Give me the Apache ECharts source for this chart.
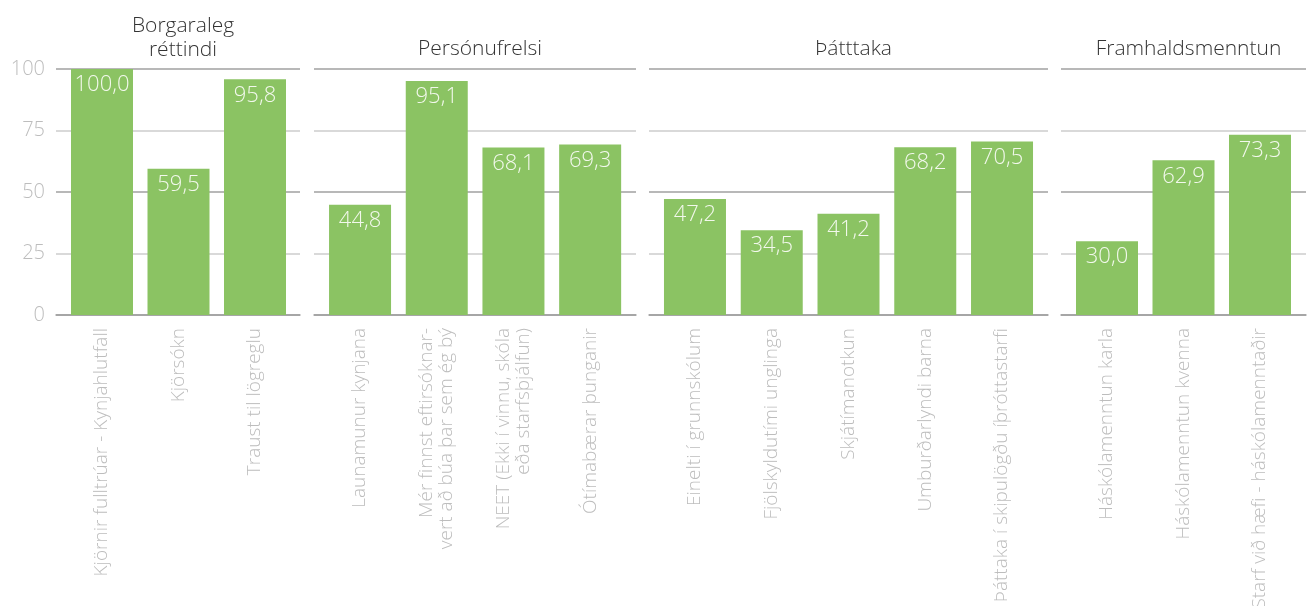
<!DOCTYPE html>
<html>
<head>
<meta charset="utf-8">
<script src="https://cdn.jsdelivr.net/npm/echarts@6/dist/echarts.min.js"></script>
<style>
  html, body { margin: 0; padding: 0; background: #fff; }
  #chart { width: 1315px; height: 606px; }
</style>
</head>
<body>
<div id="chart"></div>
<script>
// flokkar og gildi
const titles = ["Borgaraleg\nréttindi", "Persónufrelsi", "Þátttaka", "Framhaldsmenntun"];

const cat1 = ["Kjörnir fulltrúar - Kynjahlutfall", "Kjörsókn", "Traust til lögreglu"];
const val1 = [100.0, 59.5, 95.8];

const cat2 = ["Launamunur kynjana", "Mér finnst eftirsóknar-\nvert að búa þar sem ég bý", "NEET (Ekki í vinnu, skóla\neða starfsþjálfun)", "Ótímabærar þunganir"];
const val2 = [44.8, 95.1, 68.1, 69.3];

const cat3 = ["Einelti í grunnskólum", "Fjölskyldutími unglinga", "Skjátímanotkun", "Umburðarlyndi barna", "Þáttaka í skipulögðu íþróttastarfi"];
const val3 = [47.2, 34.5, 41.2, 68.2, 70.5];

const cat4 = ["Háskólamenntun karla", "Háskólamenntun kvenna", "Starf við hæfi - háskólamenntaðir"];
const val4 = [30.0, 62.9, 73.3];

const yTicks = [0, 25, 50, 75, 100];

const cats = [cat1, cat2, cat3, cat4];
const vals = [val1, val2, val3, val4];
// reitir: línur (breiðari) og súlur (mjórri)
const panels = [
  { left: 56, width: 244, barLeft: 63.75, barWidth: 229.5 },
  { left: 314, width: 322, barLeft: 321.7, barWidth: 306.8 },
  { left: 649, width: 399, barLeft: 656.6, barWidth: 383.8 },
  { left: 1061, width: 245, barLeft: 1068.75, barWidth: 229.5 }
];
const n = panels.length;

const myChart = echarts.init(document.getElementById("chart"));
const fontLight = "'Open Sans', sans-serif";

let grids = [];
let xAxes = [];
let yAxes = [];
let series = [];

panels.forEach((p, i) => {
  // grunnreitur med linum
  grids.push({ left: p.left, width: p.width, top: 69, height: 246, outerBoundsMode: "none" });
  xAxes.push({
    type: "category",
    gridIndex: i,
    data: [""],
    axisTick: { show: false },
    axisLabel: { show: false },
    axisLine: { lineStyle: { color: "#a0a0a0", width: 1.5 } }
  });
  yAxes.push({
    type: "value",
    gridIndex: i,
    min: 0,
    max: 100,
    interval: 25,
    axisLine: { show: false },
    axisTick: { show: false },
    axisLabel: {
      show: i == 0,
      color: "#bdbdbd",
      fontSize: 20,
      fontFamily: fontLight,
      fontWeight: 300,
      margin: 11,
      formatter: (v) => (yTicks.indexOf(v) >= 0 ? String(v) : "")
    },
    splitLine: {
      lineStyle: { color: ["#a0a0a0", "#cccccc"], width: 1.5 }
    }
  });
});

panels.forEach((p, i) => {
  // sulureitur
  grids.push({ left: p.barLeft, width: p.barWidth, top: 69, height: 246, outerBoundsMode: "none" });
  xAxes.push({
    type: "category",
    gridIndex: n + i,
    data: cats[i],
    axisTick: { show: false },
    axisLine: { show: false },
    axisLabel: {
      rotate: 90,
      interval: 0,
      color: "#bdbdbd",
      fontSize: 19,
      fontWeight: 300,
      fontFamily: fontLight,
      lineHeight: 20,
      margin: 13
    }
  });
  yAxes.push({
    type: "value",
    gridIndex: n + i,
    min: 0,
    max: 100,
    interval: 25,
    show: false,
    splitLine: { show: false }
  });
  series.push({
    type: "bar",
    xAxisIndex: n + i,
    yAxisIndex: n + i,
    data: vals[i],
    barWidth: 62,
    itemStyle: { color: "#8bc363" },
    label: {
      show: true,
      position: "insideTop",
      distance: 5,
      color: "#f2f8ec",
      fontSize: 22,
      fontWeight: 300,
      fontFamily: fontLight,
      formatter: (params) => params.value.toFixed(1).replace(".", ",")
    }
  });
});

let option = {
  animation: false,
  title: panels.map((p, i) => ({
    text: titles[i],
    left: p.left + p.width / 2,
    top: i == 0 ? 9 : 32,
    textAlign: "center",
    textStyle: {
      color: "#333",
      fontSize: 21,
      fontWeight: 300,
      fontFamily: fontLight,
      lineHeight: 24
    }
  })),
  grid: grids,
  xAxis: xAxes,
  yAxis: yAxes,
  series: series
};

myChart.setOption(option);
</script>
</body>
</html>
